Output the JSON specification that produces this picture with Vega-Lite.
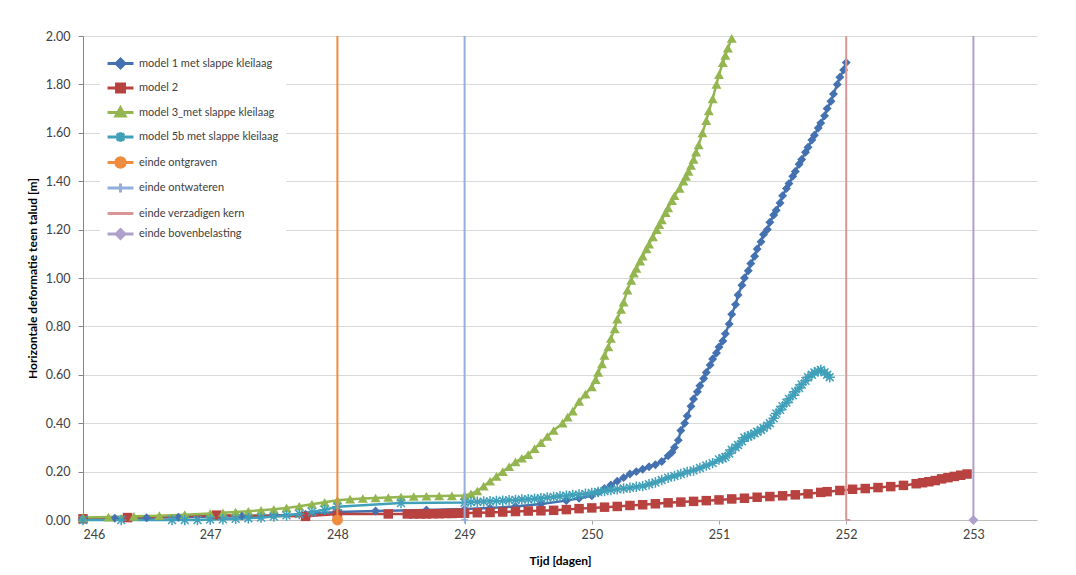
{
  "$schema": "https://vega.github.io/schema/vega-lite/v6.json",
  "width": 954,
  "height": 484,
  "autosize": {"type": "none"},
  "padding": {"left": 83, "top": 36, "right": 39, "bottom": 55},
  "background": "white",
  "config": {
    "font": "Lato",
    "view": {"stroke": null},
    "axis": {"labelFont": "Lato", "labelFontSize": 12.5, "labelColor": "#404040", "titleFont": "Lato", "titleFontWeight": "bold", "titleFontSize": 12, "titleColor": "#000000"}
  },
  "data": {"values": [
    {"s": "model 1 met slappe kleilaag", "x": 246.0, "y": 0.005},
    {"s": "model 1 met slappe kleilaag", "x": 246.25, "y": 0.007},
    {"s": "model 1 met slappe kleilaag", "x": 246.5, "y": 0.009},
    {"s": "model 1 met slappe kleilaag", "x": 246.75, "y": 0.011},
    {"s": "model 1 met slappe kleilaag", "x": 247.0, "y": 0.013},
    {"s": "model 1 met slappe kleilaag", "x": 247.25, "y": 0.016},
    {"s": "model 1 met slappe kleilaag", "x": 247.5, "y": 0.019},
    {"s": "model 1 met slappe kleilaag", "x": 247.75, "y": 0.024},
    {"s": "model 1 met slappe kleilaag", "x": 248.0, "y": 0.033},
    {"s": "model 1 met slappe kleilaag", "x": 248.3, "y": 0.037},
    {"s": "model 1 met slappe kleilaag", "x": 248.7, "y": 0.041},
    {"s": "model 1 met slappe kleilaag", "x": 249.0, "y": 0.045},
    {"s": "model 1 met slappe kleilaag", "x": 249.2, "y": 0.05},
    {"s": "model 1 met slappe kleilaag", "x": 249.4, "y": 0.056},
    {"s": "model 1 met slappe kleilaag", "x": 249.6, "y": 0.066},
    {"s": "model 1 met slappe kleilaag", "x": 249.8, "y": 0.08},
    {"s": "model 1 met slappe kleilaag", "x": 249.9, "y": 0.09},
    {"s": "model 1 met slappe kleilaag", "x": 250.0, "y": 0.1},
    {"s": "model 1 met slappe kleilaag", "x": 250.05, "y": 0.115},
    {"s": "model 1 met slappe kleilaag", "x": 250.1, "y": 0.13},
    {"s": "model 1 met slappe kleilaag", "x": 250.15, "y": 0.145},
    {"s": "model 1 met slappe kleilaag", "x": 250.2, "y": 0.16},
    {"s": "model 1 met slappe kleilaag", "x": 250.25, "y": 0.175},
    {"s": "model 1 met slappe kleilaag", "x": 250.3, "y": 0.19},
    {"s": "model 1 met slappe kleilaag", "x": 250.35, "y": 0.2},
    {"s": "model 1 met slappe kleilaag", "x": 250.4, "y": 0.21},
    {"s": "model 1 met slappe kleilaag", "x": 250.45, "y": 0.22},
    {"s": "model 1 met slappe kleilaag", "x": 250.5, "y": 0.228},
    {"s": "model 1 met slappe kleilaag", "x": 250.55, "y": 0.242},
    {"s": "model 1 met slappe kleilaag", "x": 250.6, "y": 0.265},
    {"s": "model 1 met slappe kleilaag", "x": 250.63, "y": 0.28},
    {"s": "model 1 met slappe kleilaag", "x": 250.65, "y": 0.3},
    {"s": "model 1 met slappe kleilaag", "x": 250.68, "y": 0.33},
    {"s": "model 1 met slappe kleilaag", "x": 250.7, "y": 0.37},
    {"s": "model 1 met slappe kleilaag", "x": 250.73, "y": 0.4},
    {"s": "model 1 met slappe kleilaag", "x": 250.75, "y": 0.43},
    {"s": "model 1 met slappe kleilaag", "x": 250.78, "y": 0.47},
    {"s": "model 1 met slappe kleilaag", "x": 250.8, "y": 0.5},
    {"s": "model 1 met slappe kleilaag", "x": 250.83, "y": 0.53},
    {"s": "model 1 met slappe kleilaag", "x": 250.85, "y": 0.555},
    {"s": "model 1 met slappe kleilaag", "x": 250.88, "y": 0.585},
    {"s": "model 1 met slappe kleilaag", "x": 250.9, "y": 0.61},
    {"s": "model 1 met slappe kleilaag", "x": 250.93, "y": 0.64},
    {"s": "model 1 met slappe kleilaag", "x": 250.95, "y": 0.665},
    {"s": "model 1 met slappe kleilaag", "x": 250.98, "y": 0.69},
    {"s": "model 1 met slappe kleilaag", "x": 251.0, "y": 0.715},
    {"s": "model 1 met slappe kleilaag", "x": 251.03, "y": 0.74},
    {"s": "model 1 met slappe kleilaag", "x": 251.05, "y": 0.77},
    {"s": "model 1 met slappe kleilaag", "x": 251.08, "y": 0.81},
    {"s": "model 1 met slappe kleilaag", "x": 251.1, "y": 0.85},
    {"s": "model 1 met slappe kleilaag", "x": 251.13, "y": 0.89},
    {"s": "model 1 met slappe kleilaag", "x": 251.15, "y": 0.93},
    {"s": "model 1 met slappe kleilaag", "x": 251.18, "y": 0.97},
    {"s": "model 1 met slappe kleilaag", "x": 251.2, "y": 1.0},
    {"s": "model 1 met slappe kleilaag", "x": 251.23, "y": 1.03},
    {"s": "model 1 met slappe kleilaag", "x": 251.25, "y": 1.06},
    {"s": "model 1 met slappe kleilaag", "x": 251.28, "y": 1.09},
    {"s": "model 1 met slappe kleilaag", "x": 251.3, "y": 1.12},
    {"s": "model 1 met slappe kleilaag", "x": 251.33, "y": 1.15},
    {"s": "model 1 met slappe kleilaag", "x": 251.35, "y": 1.18},
    {"s": "model 1 met slappe kleilaag", "x": 251.38, "y": 1.2},
    {"s": "model 1 met slappe kleilaag", "x": 251.4, "y": 1.23},
    {"s": "model 1 met slappe kleilaag", "x": 251.43, "y": 1.26},
    {"s": "model 1 met slappe kleilaag", "x": 251.45, "y": 1.28},
    {"s": "model 1 met slappe kleilaag", "x": 251.48, "y": 1.31},
    {"s": "model 1 met slappe kleilaag", "x": 251.5, "y": 1.34},
    {"s": "model 1 met slappe kleilaag", "x": 251.53, "y": 1.37},
    {"s": "model 1 met slappe kleilaag", "x": 251.55, "y": 1.39},
    {"s": "model 1 met slappe kleilaag", "x": 251.58, "y": 1.42},
    {"s": "model 1 met slappe kleilaag", "x": 251.6, "y": 1.44},
    {"s": "model 1 met slappe kleilaag", "x": 251.63, "y": 1.47},
    {"s": "model 1 met slappe kleilaag", "x": 251.65, "y": 1.49},
    {"s": "model 1 met slappe kleilaag", "x": 251.68, "y": 1.52},
    {"s": "model 1 met slappe kleilaag", "x": 251.7, "y": 1.54},
    {"s": "model 1 met slappe kleilaag", "x": 251.73, "y": 1.57},
    {"s": "model 1 met slappe kleilaag", "x": 251.75, "y": 1.59},
    {"s": "model 1 met slappe kleilaag", "x": 251.78, "y": 1.62},
    {"s": "model 1 met slappe kleilaag", "x": 251.8, "y": 1.64},
    {"s": "model 1 met slappe kleilaag", "x": 251.83, "y": 1.67},
    {"s": "model 1 met slappe kleilaag", "x": 251.85, "y": 1.7},
    {"s": "model 1 met slappe kleilaag", "x": 251.88, "y": 1.73},
    {"s": "model 1 met slappe kleilaag", "x": 251.9, "y": 1.76},
    {"s": "model 1 met slappe kleilaag", "x": 251.93, "y": 1.8},
    {"s": "model 1 met slappe kleilaag", "x": 251.95, "y": 1.83},
    {"s": "model 1 met slappe kleilaag", "x": 251.98, "y": 1.86},
    {"s": "model 1 met slappe kleilaag", "x": 252.0, "y": 1.89},

    {"s": "model 2", "x": 246.0, "y": 0.005},
    {"s": "model 2", "x": 246.35, "y": 0.01},
    {"s": "model 2", "x": 247.05, "y": 0.02},
    {"s": "model 2", "x": 247.75, "y": 0.015},
    {"s": "model 2", "x": 248.0, "y": 0.025},
    {"s": "model 2", "x": 248.4, "y": 0.025},
    {"s": "model 2", "x": 248.55, "y": 0.025},
    {"s": "model 2", "x": 248.6, "y": 0.025},
    {"s": "model 2", "x": 248.65, "y": 0.025},
    {"s": "model 2", "x": 248.7, "y": 0.025},
    {"s": "model 2", "x": 248.75, "y": 0.026},
    {"s": "model 2", "x": 248.8, "y": 0.026},
    {"s": "model 2", "x": 248.85, "y": 0.027},
    {"s": "model 2", "x": 248.9, "y": 0.027},
    {"s": "model 2", "x": 248.95, "y": 0.028},
    {"s": "model 2", "x": 249.0, "y": 0.028},
    {"s": "model 2", "x": 249.1, "y": 0.03},
    {"s": "model 2", "x": 249.2, "y": 0.031},
    {"s": "model 2", "x": 249.3, "y": 0.033},
    {"s": "model 2", "x": 249.4, "y": 0.035},
    {"s": "model 2", "x": 249.5, "y": 0.037},
    {"s": "model 2", "x": 249.6, "y": 0.038},
    {"s": "model 2", "x": 249.7, "y": 0.04},
    {"s": "model 2", "x": 249.8, "y": 0.043},
    {"s": "model 2", "x": 249.9, "y": 0.047},
    {"s": "model 2", "x": 250.0, "y": 0.05},
    {"s": "model 2", "x": 250.1, "y": 0.053},
    {"s": "model 2", "x": 250.2, "y": 0.056},
    {"s": "model 2", "x": 250.3, "y": 0.06},
    {"s": "model 2", "x": 250.4, "y": 0.063},
    {"s": "model 2", "x": 250.5, "y": 0.067},
    {"s": "model 2", "x": 250.6, "y": 0.071},
    {"s": "model 2", "x": 250.7, "y": 0.074},
    {"s": "model 2", "x": 250.8, "y": 0.077},
    {"s": "model 2", "x": 250.9, "y": 0.08},
    {"s": "model 2", "x": 251.0, "y": 0.083},
    {"s": "model 2", "x": 251.1, "y": 0.087},
    {"s": "model 2", "x": 251.2, "y": 0.09},
    {"s": "model 2", "x": 251.3, "y": 0.094},
    {"s": "model 2", "x": 251.4, "y": 0.097},
    {"s": "model 2", "x": 251.5, "y": 0.1},
    {"s": "model 2", "x": 251.6, "y": 0.104},
    {"s": "model 2", "x": 251.7, "y": 0.108},
    {"s": "model 2", "x": 251.8, "y": 0.114},
    {"s": "model 2", "x": 251.85, "y": 0.117},
    {"s": "model 2", "x": 251.95, "y": 0.122},
    {"s": "model 2", "x": 252.05, "y": 0.127},
    {"s": "model 2", "x": 252.15, "y": 0.13},
    {"s": "model 2", "x": 252.25, "y": 0.134},
    {"s": "model 2", "x": 252.35, "y": 0.138},
    {"s": "model 2", "x": 252.45, "y": 0.143},
    {"s": "model 2", "x": 252.55, "y": 0.15},
    {"s": "model 2", "x": 252.6, "y": 0.154},
    {"s": "model 2", "x": 252.65, "y": 0.158},
    {"s": "model 2", "x": 252.7, "y": 0.163},
    {"s": "model 2", "x": 252.75, "y": 0.17},
    {"s": "model 2", "x": 252.8, "y": 0.175},
    {"s": "model 2", "x": 252.85, "y": 0.18},
    {"s": "model 2", "x": 252.9, "y": 0.185},
    {"s": "model 2", "x": 252.95, "y": 0.19},

    {"s": "model 3_met slappe kleilaag", "x": 246.0, "y": 0.01},
    {"s": "model 3_met slappe kleilaag", "x": 246.2, "y": 0.012},
    {"s": "model 3_met slappe kleilaag", "x": 246.4, "y": 0.015},
    {"s": "model 3_met slappe kleilaag", "x": 246.6, "y": 0.018},
    {"s": "model 3_met slappe kleilaag", "x": 246.8, "y": 0.022},
    {"s": "model 3_met slappe kleilaag", "x": 247.0, "y": 0.027},
    {"s": "model 3_met slappe kleilaag", "x": 247.1, "y": 0.03},
    {"s": "model 3_met slappe kleilaag", "x": 247.2, "y": 0.033},
    {"s": "model 3_met slappe kleilaag", "x": 247.3, "y": 0.036},
    {"s": "model 3_met slappe kleilaag", "x": 247.4, "y": 0.04},
    {"s": "model 3_met slappe kleilaag", "x": 247.5, "y": 0.044},
    {"s": "model 3_met slappe kleilaag", "x": 247.6, "y": 0.05},
    {"s": "model 3_met slappe kleilaag", "x": 247.7, "y": 0.057},
    {"s": "model 3_met slappe kleilaag", "x": 247.8, "y": 0.065},
    {"s": "model 3_met slappe kleilaag", "x": 247.9, "y": 0.073},
    {"s": "model 3_met slappe kleilaag", "x": 248.0, "y": 0.082},
    {"s": "model 3_met slappe kleilaag", "x": 248.1, "y": 0.086},
    {"s": "model 3_met slappe kleilaag", "x": 248.2, "y": 0.089},
    {"s": "model 3_met slappe kleilaag", "x": 248.3, "y": 0.091},
    {"s": "model 3_met slappe kleilaag", "x": 248.4, "y": 0.093},
    {"s": "model 3_met slappe kleilaag", "x": 248.5, "y": 0.095},
    {"s": "model 3_met slappe kleilaag", "x": 248.6, "y": 0.097},
    {"s": "model 3_met slappe kleilaag", "x": 248.7, "y": 0.098},
    {"s": "model 3_met slappe kleilaag", "x": 248.8, "y": 0.099},
    {"s": "model 3_met slappe kleilaag", "x": 248.9, "y": 0.1},
    {"s": "model 3_met slappe kleilaag", "x": 249.0, "y": 0.101},
    {"s": "model 3_met slappe kleilaag", "x": 249.05, "y": 0.108},
    {"s": "model 3_met slappe kleilaag", "x": 249.1, "y": 0.12},
    {"s": "model 3_met slappe kleilaag", "x": 249.15, "y": 0.14},
    {"s": "model 3_met slappe kleilaag", "x": 249.2, "y": 0.16},
    {"s": "model 3_met slappe kleilaag", "x": 249.25, "y": 0.18},
    {"s": "model 3_met slappe kleilaag", "x": 249.3, "y": 0.2},
    {"s": "model 3_met slappe kleilaag", "x": 249.35, "y": 0.22},
    {"s": "model 3_met slappe kleilaag", "x": 249.4, "y": 0.24},
    {"s": "model 3_met slappe kleilaag", "x": 249.45, "y": 0.255},
    {"s": "model 3_met slappe kleilaag", "x": 249.5, "y": 0.27},
    {"s": "model 3_met slappe kleilaag", "x": 249.55, "y": 0.295},
    {"s": "model 3_met slappe kleilaag", "x": 249.6, "y": 0.32},
    {"s": "model 3_met slappe kleilaag", "x": 249.65, "y": 0.345},
    {"s": "model 3_met slappe kleilaag", "x": 249.7, "y": 0.37},
    {"s": "model 3_met slappe kleilaag", "x": 249.77, "y": 0.4},
    {"s": "model 3_met slappe kleilaag", "x": 249.81, "y": 0.425},
    {"s": "model 3_met slappe kleilaag", "x": 249.85, "y": 0.45},
    {"s": "model 3_met slappe kleilaag", "x": 249.9, "y": 0.49},
    {"s": "model 3_met slappe kleilaag", "x": 249.95, "y": 0.52},
    {"s": "model 3_met slappe kleilaag", "x": 250.0, "y": 0.55},
    {"s": "model 3_met slappe kleilaag", "x": 250.03, "y": 0.58},
    {"s": "model 3_met slappe kleilaag", "x": 250.05, "y": 0.61},
    {"s": "model 3_met slappe kleilaag", "x": 250.08, "y": 0.645},
    {"s": "model 3_met slappe kleilaag", "x": 250.1, "y": 0.68},
    {"s": "model 3_met slappe kleilaag", "x": 250.13, "y": 0.715},
    {"s": "model 3_met slappe kleilaag", "x": 250.15, "y": 0.75},
    {"s": "model 3_met slappe kleilaag", "x": 250.18, "y": 0.79},
    {"s": "model 3_met slappe kleilaag", "x": 250.2, "y": 0.83},
    {"s": "model 3_met slappe kleilaag", "x": 250.23, "y": 0.87},
    {"s": "model 3_met slappe kleilaag", "x": 250.25, "y": 0.9},
    {"s": "model 3_met slappe kleilaag", "x": 250.28, "y": 0.95},
    {"s": "model 3_met slappe kleilaag", "x": 250.31, "y": 0.99},
    {"s": "model 3_met slappe kleilaag", "x": 250.33, "y": 1.02},
    {"s": "model 3_met slappe kleilaag", "x": 250.35, "y": 1.04},
    {"s": "model 3_met slappe kleilaag", "x": 250.38, "y": 1.07},
    {"s": "model 3_met slappe kleilaag", "x": 250.4, "y": 1.09},
    {"s": "model 3_met slappe kleilaag", "x": 250.43, "y": 1.12},
    {"s": "model 3_met slappe kleilaag", "x": 250.45, "y": 1.14},
    {"s": "model 3_met slappe kleilaag", "x": 250.48, "y": 1.17},
    {"s": "model 3_met slappe kleilaag", "x": 250.51, "y": 1.2},
    {"s": "model 3_met slappe kleilaag", "x": 250.53, "y": 1.22},
    {"s": "model 3_met slappe kleilaag", "x": 250.55, "y": 1.24},
    {"s": "model 3_met slappe kleilaag", "x": 250.58, "y": 1.27},
    {"s": "model 3_met slappe kleilaag", "x": 250.6, "y": 1.29},
    {"s": "model 3_met slappe kleilaag", "x": 250.63, "y": 1.32},
    {"s": "model 3_met slappe kleilaag", "x": 250.65, "y": 1.34},
    {"s": "model 3_met slappe kleilaag", "x": 250.69, "y": 1.37},
    {"s": "model 3_met slappe kleilaag", "x": 250.72, "y": 1.4},
    {"s": "model 3_met slappe kleilaag", "x": 250.74, "y": 1.42},
    {"s": "model 3_met slappe kleilaag", "x": 250.76, "y": 1.44},
    {"s": "model 3_met slappe kleilaag", "x": 250.78, "y": 1.465},
    {"s": "model 3_met slappe kleilaag", "x": 250.8, "y": 1.49},
    {"s": "model 3_met slappe kleilaag", "x": 250.82, "y": 1.52},
    {"s": "model 3_met slappe kleilaag", "x": 250.84, "y": 1.55},
    {"s": "model 3_met slappe kleilaag", "x": 250.87, "y": 1.6},
    {"s": "model 3_met slappe kleilaag", "x": 250.9, "y": 1.65},
    {"s": "model 3_met slappe kleilaag", "x": 250.92, "y": 1.69},
    {"s": "model 3_met slappe kleilaag", "x": 250.95, "y": 1.74},
    {"s": "model 3_met slappe kleilaag", "x": 250.98, "y": 1.8},
    {"s": "model 3_met slappe kleilaag", "x": 251.0, "y": 1.84},
    {"s": "model 3_met slappe kleilaag", "x": 251.03, "y": 1.89},
    {"s": "model 3_met slappe kleilaag", "x": 251.05, "y": 1.92},
    {"s": "model 3_met slappe kleilaag", "x": 251.07, "y": 1.95},
    {"s": "model 3_met slappe kleilaag", "x": 251.1, "y": 1.99},

    {"s": "model 5b met slappe kleilaag", "x": 246.0, "y": 0.0},
    {"s": "model 5b met slappe kleilaag", "x": 246.3, "y": 0.0},
    {"s": "model 5b met slappe kleilaag", "x": 246.7, "y": 0.0},
    {"s": "model 5b met slappe kleilaag", "x": 246.8, "y": 0.0},
    {"s": "model 5b met slappe kleilaag", "x": 246.9, "y": 0.0},
    {"s": "model 5b met slappe kleilaag", "x": 247.0, "y": 0.002},
    {"s": "model 5b met slappe kleilaag", "x": 247.1, "y": 0.003},
    {"s": "model 5b met slappe kleilaag", "x": 247.2, "y": 0.005},
    {"s": "model 5b met slappe kleilaag", "x": 247.3, "y": 0.007},
    {"s": "model 5b met slappe kleilaag", "x": 247.4, "y": 0.01},
    {"s": "model 5b met slappe kleilaag", "x": 247.5, "y": 0.014},
    {"s": "model 5b met slappe kleilaag", "x": 247.6, "y": 0.019},
    {"s": "model 5b met slappe kleilaag", "x": 247.7, "y": 0.025},
    {"s": "model 5b met slappe kleilaag", "x": 247.8, "y": 0.033},
    {"s": "model 5b met slappe kleilaag", "x": 247.9, "y": 0.042},
    {"s": "model 5b met slappe kleilaag", "x": 248.0, "y": 0.055},
    {"s": "model 5b met slappe kleilaag", "x": 248.5, "y": 0.07},
    {"s": "model 5b met slappe kleilaag", "x": 249.0, "y": 0.072},
    {"s": "model 5b met slappe kleilaag", "x": 249.05, "y": 0.074},
    {"s": "model 5b met slappe kleilaag", "x": 249.1, "y": 0.075},
    {"s": "model 5b met slappe kleilaag", "x": 249.15, "y": 0.076},
    {"s": "model 5b met slappe kleilaag", "x": 249.2, "y": 0.077},
    {"s": "model 5b met slappe kleilaag", "x": 249.25, "y": 0.079},
    {"s": "model 5b met slappe kleilaag", "x": 249.3, "y": 0.08},
    {"s": "model 5b met slappe kleilaag", "x": 249.35, "y": 0.082},
    {"s": "model 5b met slappe kleilaag", "x": 249.4, "y": 0.083},
    {"s": "model 5b met slappe kleilaag", "x": 249.45, "y": 0.085},
    {"s": "model 5b met slappe kleilaag", "x": 249.5, "y": 0.086},
    {"s": "model 5b met slappe kleilaag", "x": 249.55, "y": 0.088},
    {"s": "model 5b met slappe kleilaag", "x": 249.6, "y": 0.09},
    {"s": "model 5b met slappe kleilaag", "x": 249.65, "y": 0.093},
    {"s": "model 5b met slappe kleilaag", "x": 249.7, "y": 0.095},
    {"s": "model 5b met slappe kleilaag", "x": 249.75, "y": 0.098},
    {"s": "model 5b met slappe kleilaag", "x": 249.8, "y": 0.1},
    {"s": "model 5b met slappe kleilaag", "x": 249.85, "y": 0.103},
    {"s": "model 5b met slappe kleilaag", "x": 249.9, "y": 0.105},
    {"s": "model 5b met slappe kleilaag", "x": 249.95, "y": 0.108},
    {"s": "model 5b met slappe kleilaag", "x": 250.0, "y": 0.112},
    {"s": "model 5b met slappe kleilaag", "x": 250.05, "y": 0.116},
    {"s": "model 5b met slappe kleilaag", "x": 250.1, "y": 0.12},
    {"s": "model 5b met slappe kleilaag", "x": 250.15, "y": 0.124},
    {"s": "model 5b met slappe kleilaag", "x": 250.2, "y": 0.127},
    {"s": "model 5b met slappe kleilaag", "x": 250.25, "y": 0.13},
    {"s": "model 5b met slappe kleilaag", "x": 250.3, "y": 0.133},
    {"s": "model 5b met slappe kleilaag", "x": 250.35, "y": 0.137},
    {"s": "model 5b met slappe kleilaag", "x": 250.4, "y": 0.14},
    {"s": "model 5b met slappe kleilaag", "x": 250.45, "y": 0.148},
    {"s": "model 5b met slappe kleilaag", "x": 250.5, "y": 0.155},
    {"s": "model 5b met slappe kleilaag", "x": 250.55, "y": 0.165},
    {"s": "model 5b met slappe kleilaag", "x": 250.6, "y": 0.175},
    {"s": "model 5b met slappe kleilaag", "x": 250.65, "y": 0.182},
    {"s": "model 5b met slappe kleilaag", "x": 250.7, "y": 0.19},
    {"s": "model 5b met slappe kleilaag", "x": 250.75, "y": 0.198},
    {"s": "model 5b met slappe kleilaag", "x": 250.8, "y": 0.205},
    {"s": "model 5b met slappe kleilaag", "x": 250.85, "y": 0.215},
    {"s": "model 5b met slappe kleilaag", "x": 250.9, "y": 0.225},
    {"s": "model 5b met slappe kleilaag", "x": 250.95, "y": 0.235},
    {"s": "model 5b met slappe kleilaag", "x": 251.0, "y": 0.25},
    {"s": "model 5b met slappe kleilaag", "x": 251.03, "y": 0.255},
    {"s": "model 5b met slappe kleilaag", "x": 251.05, "y": 0.26},
    {"s": "model 5b met slappe kleilaag", "x": 251.08, "y": 0.275},
    {"s": "model 5b met slappe kleilaag", "x": 251.1, "y": 0.29},
    {"s": "model 5b met slappe kleilaag", "x": 251.13, "y": 0.3},
    {"s": "model 5b met slappe kleilaag", "x": 251.15, "y": 0.31},
    {"s": "model 5b met slappe kleilaag", "x": 251.18, "y": 0.325},
    {"s": "model 5b met slappe kleilaag", "x": 251.2, "y": 0.34},
    {"s": "model 5b met slappe kleilaag", "x": 251.23, "y": 0.345},
    {"s": "model 5b met slappe kleilaag", "x": 251.25, "y": 0.35},
    {"s": "model 5b met slappe kleilaag", "x": 251.28, "y": 0.358},
    {"s": "model 5b met slappe kleilaag", "x": 251.3, "y": 0.365},
    {"s": "model 5b met slappe kleilaag", "x": 251.33, "y": 0.372},
    {"s": "model 5b met slappe kleilaag", "x": 251.35, "y": 0.38},
    {"s": "model 5b met slappe kleilaag", "x": 251.38, "y": 0.39},
    {"s": "model 5b met slappe kleilaag", "x": 251.4, "y": 0.4},
    {"s": "model 5b met slappe kleilaag", "x": 251.43, "y": 0.42},
    {"s": "model 5b met slappe kleilaag", "x": 251.45, "y": 0.44},
    {"s": "model 5b met slappe kleilaag", "x": 251.48, "y": 0.455},
    {"s": "model 5b met slappe kleilaag", "x": 251.5, "y": 0.47},
    {"s": "model 5b met slappe kleilaag", "x": 251.53, "y": 0.485},
    {"s": "model 5b met slappe kleilaag", "x": 251.55, "y": 0.5},
    {"s": "model 5b met slappe kleilaag", "x": 251.58, "y": 0.515},
    {"s": "model 5b met slappe kleilaag", "x": 251.6, "y": 0.53},
    {"s": "model 5b met slappe kleilaag", "x": 251.63, "y": 0.545},
    {"s": "model 5b met slappe kleilaag", "x": 251.65, "y": 0.56},
    {"s": "model 5b met slappe kleilaag", "x": 251.68, "y": 0.575},
    {"s": "model 5b met slappe kleilaag", "x": 251.7, "y": 0.59},
    {"s": "model 5b met slappe kleilaag", "x": 251.73, "y": 0.6},
    {"s": "model 5b met slappe kleilaag", "x": 251.75, "y": 0.61},
    {"s": "model 5b met slappe kleilaag", "x": 251.78, "y": 0.615},
    {"s": "model 5b met slappe kleilaag", "x": 251.8, "y": 0.62},
    {"s": "model 5b met slappe kleilaag", "x": 251.83, "y": 0.61},
    {"s": "model 5b met slappe kleilaag", "x": 251.85, "y": 0.6},
    {"s": "model 5b met slappe kleilaag", "x": 251.87, "y": 0.59},

    {"s": "einde ontgraven", "x": 248, "y": 0},
    {"s": "einde ontgraven", "x": 248, "y": 2},
    {"s": "einde ontwateren", "x": 249, "y": 0},
    {"s": "einde ontwateren", "x": 249, "y": 2},
    {"s": "einde verzadigen kern", "x": 252, "y": 0},
    {"s": "einde verzadigen kern", "x": 252, "y": 2},
    {"s": "einde bovenbelasting", "x": 253, "y": 0},
    {"s": "einde bovenbelasting", "x": 253, "y": 2}
  ]},
  "encoding": {
    "x": {"field": "x", "type": "quantitative", "scale": {"domain": [246, 253.5], "nice": false, "zero": false},
      "axis": {"title": "Tijd [dagen]", "values": [246, 247, 248, 249, 250, 251, 252, 253], "format": "d", "grid": false, "domainColor": "#BFBFBF", "tickColor": "#A6A6A6", "tickSize": 4, "labelPadding": 4, "titlePadding": 15}},
    "y": {"field": "y", "type": "quantitative", "scale": {"domain": [0, 2], "nice": false},
      "axis": {"title": "Horizontale deformatie teen talud [m]", "values": [0, 0.2, 0.4, 0.6, 0.8, 1.0, 1.2, 1.4, 1.6, 1.8, 2.0], "format": ".2f", "grid": true, "gridColor": "#D9D9D9", "domainColor": "#868686", "tickColor": "#868686", "tickSize": 5, "labelPadding": 8, "titlePadding": 6}}
  },
  "layer": [
    {
      "transform": [{"filter": "indexof(datum.s, 'model') == 0"}],
      "mark": {"type": "line", "strokeWidth": 2.5},
      "encoding": {
        "color": {"field": "s", "type": "nominal", "legend": null,
          "scale": {"domain": ["einde bovenbelasting", "einde ontgraven", "einde ontwateren", "einde verzadigen kern", "model 1 met slappe kleilaag", "model 2", "model 3_met slappe kleilaag", "model 5b met slappe kleilaag"],
            "range": ["#AFA0CB", "#F08C3E", "#92AEDB", "#DA9694", "#4471B0", "#B8423F", "#93B650", "#40A0B9"]}}
      }
    },
    {
      "transform": [{"filter": "datum.s == 'model 1 met slappe kleilaag'"}],
      "mark": {"type": "point", "filled": true, "opacity": 1, "shape": "diamond", "size": 80},
      "encoding": {"color": {"field": "s", "type": "nominal", "legend": null}}
    },
    {
      "transform": [{"filter": "datum.s == 'model 2'"}],
      "mark": {"type": "point", "filled": true, "opacity": 1, "shape": "square", "size": 90},
      "encoding": {"color": {"field": "s", "type": "nominal", "legend": null}}
    },
    {
      "transform": [{"filter": "datum.s == 'model 3_met slappe kleilaag'"}],
      "mark": {"type": "point", "filled": true, "opacity": 1, "shape": "triangle-up", "size": 100},
      "encoding": {"color": {"field": "s", "type": "nominal", "legend": null}}
    },
    {
      "transform": [{"filter": "datum.s == 'model 5b met slappe kleilaag'"}],
      "mark": {"type": "point", "filled": false, "opacity": 1, "strokeWidth": 1.5, "size": 110, "shape": "M-0.75,-0.75L0.75,0.75M-0.75,0.75L0.75,-0.75M0,-1L0,1M-1,0L1,0"},
      "encoding": {"color": {"field": "s", "type": "nominal", "legend": null}}
    },
    {
      "transform": [{"filter": "indexof(datum.s, 'einde') == 0"}],
      "mark": {"type": "line", "strokeWidth": 2},
      "encoding": {"color": {"field": "s", "type": "nominal", "legend": null}}
    },
    {
      "transform": [{"filter": "datum.s == 'einde ontgraven' && datum.y < 2"}],
      "mark": {"type": "point", "filled": true, "opacity": 1, "shape": "circle", "size": 120},
      "encoding": {"color": {"field": "s", "type": "nominal", "legend": null}}
    },
    {
      "transform": [{"filter": "datum.s == 'einde ontwateren' && datum.y < 2"}],
      "mark": {"type": "point", "filled": false, "opacity": 1, "strokeWidth": 1.5, "shape": "M-1,0L1,0M0,-1L0,1", "size": 50},
      "encoding": {"color": {"field": "s", "type": "nominal", "legend": null}}
    },
    {
      "transform": [{"filter": "datum.s == 'einde verzadigen kern' && datum.y < 2"}],
      "mark": {"type": "point", "filled": false, "opacity": 1, "strokeWidth": 2, "shape": "M0,0L1,0", "size": 60},
      "encoding": {"color": {"field": "s", "type": "nominal", "legend": null}}
    },
    {
      "transform": [{"filter": "datum.s == 'einde bovenbelasting' && datum.y < 2"}],
      "mark": {"type": "point", "filled": true, "opacity": 1, "shape": "diamond", "size": 100},
      "encoding": {"color": {"field": "s", "type": "nominal", "legend": null}}
    },
    {
      "mark": {"type": "point", "filled": true, "opacity": 0, "strokeWidth": 3},
      "encoding": {
        "shape": {"field": "s", "type": "nominal",
          "scale": {"domain": ["model 1 met slappe kleilaag", "model 2", "model 3_met slappe kleilaag", "model 5b met slappe kleilaag", "einde ontgraven", "einde ontwateren", "einde verzadigen kern", "einde bovenbelasting"],
            "range": [
              "M-1.08,0L1.08,0M0,-0.36L0.36,0L0,0.36L-0.36,0Z",
              "M-1.08,0L1.08,0M-0.33,-0.33L0.33,-0.33L0.33,0.33L-0.33,0.33Z",
              "M-1.08,0L1.08,0M0,-0.38L0.38,0.3L-0.38,0.3Z",
              "M-1.08,0L1.08,0M-0.3,-0.3L0.3,0.3M-0.3,0.3L0.3,-0.3M0,-0.4L0,0.4",
              "M-1.08,0L1.08,0M0.4,0L0.346,0.2L0.2,0.346L0,0.4L-0.2,0.346L-0.346,0.2L-0.4,0L-0.346,-0.2L-0.2,-0.346L0,-0.4L0.2,-0.346L0.346,-0.2Z",
              "M-1.08,0L1.08,0M0,-0.38L0,0.38",
              "M-1.08,0L1.08,0",
              "M-1.08,0L1.08,0M0,-0.36L0.36,0L0,0.36L-0.36,0Z"
            ]},
          "legend": {"title": null, "orient": "none", "legendX": 17, "legendY": 7, "fillColor": "white", "padding": 7, "symbolSize": 576, "symbolStrokeWidth": 3, "symbolOpacity": 1, "labelFont": "Lato", "labelFontSize": 11, "labelColor": "#404040", "labelOffset": 5, "rowPadding": 0.5}},
        "fill": {"field": "s", "type": "nominal",
          "scale": {"domain": ["model 1 met slappe kleilaag", "model 2", "model 3_met slappe kleilaag", "model 5b met slappe kleilaag", "einde ontgraven", "einde ontwateren", "einde verzadigen kern", "einde bovenbelasting"],
            "range": ["#4471B0", "#B8423F", "#93B650", "#40A0B9", "#F08C3E", "#92AEDB", "#DA9694", "#AFA0CB"]},
          "legend": {"title": null, "orient": "none", "legendX": 17, "legendY": 7, "fillColor": "white", "padding": 7, "symbolSize": 576, "symbolStrokeWidth": 3, "symbolOpacity": 1, "labelFont": "Lato", "labelFontSize": 11, "labelColor": "#404040", "labelOffset": 5, "rowPadding": 0.5}},
        "stroke": {"field": "s", "type": "nominal",
          "scale": {"domain": ["model 1 met slappe kleilaag", "model 2", "model 3_met slappe kleilaag", "model 5b met slappe kleilaag", "einde ontgraven", "einde ontwateren", "einde verzadigen kern", "einde bovenbelasting"],
            "range": ["#4471B0", "#B8423F", "#93B650", "#40A0B9", "#F08C3E", "#92AEDB", "#DA9694", "#AFA0CB"]},
          "legend": {"title": null, "orient": "none", "legendX": 17, "legendY": 7, "fillColor": "white", "padding": 7, "symbolSize": 576, "symbolStrokeWidth": 3, "symbolOpacity": 1, "labelFont": "Lato", "labelFontSize": 11, "labelColor": "#404040", "labelOffset": 5, "rowPadding": 0.5}}
      }
    }
  ]
}
